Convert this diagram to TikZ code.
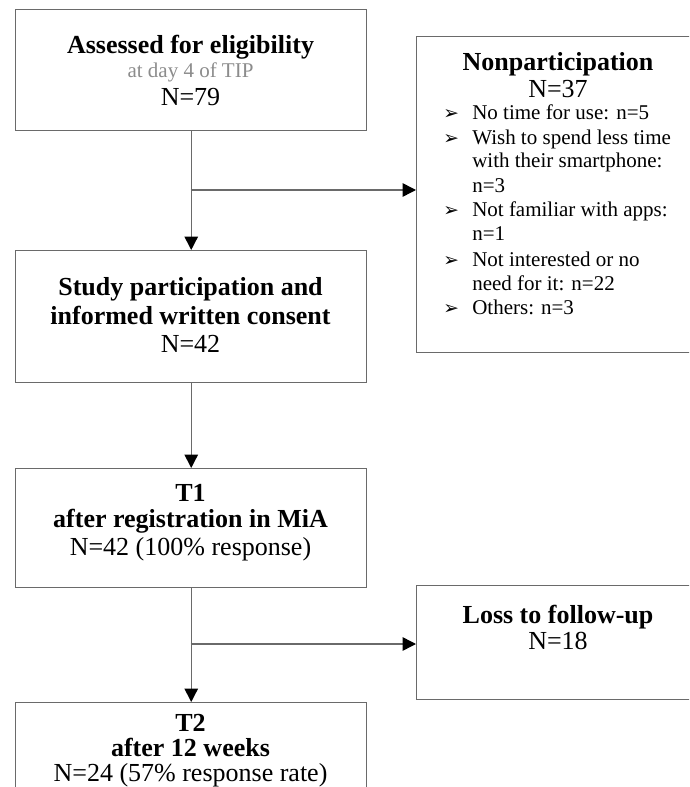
\documentclass[tikz,border=0pt]{standalone}
\usepackage{fontspec}
\setmainfont{Liberation Serif}
\newfontfamily\dejavu{DejaVu Sans}
\usetikzlibrary{arrows.meta}
\definecolor{boxline}{HTML}{6A6A6A}
\definecolor{subgray}{HTML}{8C8C8C}
\newcommand{\bul}{\makebox[21.75pt][l]{\dejavu\fontsize{14}{14}\selectfont ➢}}
\begin{document}
\begin{tikzpicture}[x=0.75pt,y=-0.75pt,
  box/.style={draw=boxline,line width=1.1pt,anchor=north west,inner sep=0pt},
  hd/.style={font=\bfseries\fontsize{19.5}{22}\selectfont,anchor=base,inner sep=0pt},
  nn/.style={font=\fontsize{19.5}{22}\selectfont,anchor=base,inner sep=0pt},
  sub/.style={font=\fontsize{15.75}{18}\selectfont,text=subgray,anchor=base,inner sep=0pt},
  li/.style={font=\fontsize{15.75}{18}\selectfont,anchor=base west,inner sep=0pt},
  conn/.style={draw=boxline,line width=1.1pt},
  arr/.style={conn,-{Triangle[length=10pt,width=10pt,color=black]}}]
\useasboundingbox (0,0) rectangle (689,787);
\clip (0,0) rectangle (689,787);

% boxes
\node[box,minimum width=263.25pt,minimum height=90.75pt] (elig) at (15,9) {};
\node[box,minimum width=213pt,minimum height=237pt] (non) at (416,36) {};
\node[box,minimum width=263.25pt,minimum height=99pt] (study) at (15,250) {};
\node[box,minimum width=263.25pt,minimum height=89.25pt] (tone) at (15,468) {};
\node[box,minimum width=213pt,minimum height=85.5pt] (loss) at (416,585) {};
\node[box,minimum width=263.25pt,minimum height=112.5pt] (ttwo) at (15,702) {};

% box 1
\node[hd] (e1) at (190.5,54) {Assessed for eligibility};
\node[sub] (e2) at (190.5,78) {at day 4 of TIP};
\node[nn] (e3) at (190.5,106) {N=79};

% nonparticipation
\node[hd] (n1) at (558,71) {Nonparticipation};
\node[nn] (n2) at (558,98) {N=37};
\node[li] (l1) at (443,120) {\bul No time for use: n=5};
\node[li] (l2) at (443,145) {\bul Wish to spend less time};
\node[li] (l3) at (472,168) {with their smartphone:};
\node[li] (l4) at (472,193) {n=3};
\node[li] (l5) at (443,217) {\bul Not familiar with apps:};
\node[li] (l6) at (472,241) {n=1};
\node[li] (l7) at (443,267) {\bul Not interested or no};
\node[li] (l8) at (472,291) {need for it: n=22};
\node[li] (l9) at (443,315) {\bul Others: n=3};

% box 2
\node[hd] (s1) at (190.5,296) {Study participation and};
\node[hd] (s2) at (190.5,325) {informed written consent};
\node[nn] (s3) at (190.5,352) {N=42};

% box 3
\node[hd] (a1) at (190.5,501) {T1};
\node[hd] (a2) at (190.5,527) {after registration in MiA};
\node[nn] (a3) at (190.5,555) {N=42 (100\% response)};

% loss
\node[hd] (o1) at (558,623) {Loss to follow-up};
\node[nn] (o2) at (558,649) {N=18};

% T2
\node[hd] (b1) at (190.5,731) {T2};
\node[hd] (b2) at (190.5,756) {after 12 weeks};
\node[nn] (b3) at (190.5,781) {N=24 (57\% response rate)};

% connectors
\coordinate (br1) at (190.5,190);
\coordinate (br2) at (190.5,644);
\draw[arr] (elig.south) -- (study.north);
\draw[arr] (br1) -- (br1 -| non.west);
\draw[arr] (study.south) -- (tone.north);
\draw[arr] (tone.south) -- (ttwo.north);
\draw[arr] (br2) -- (br2 -| loss.west);
\end{tikzpicture}
\end{document}
